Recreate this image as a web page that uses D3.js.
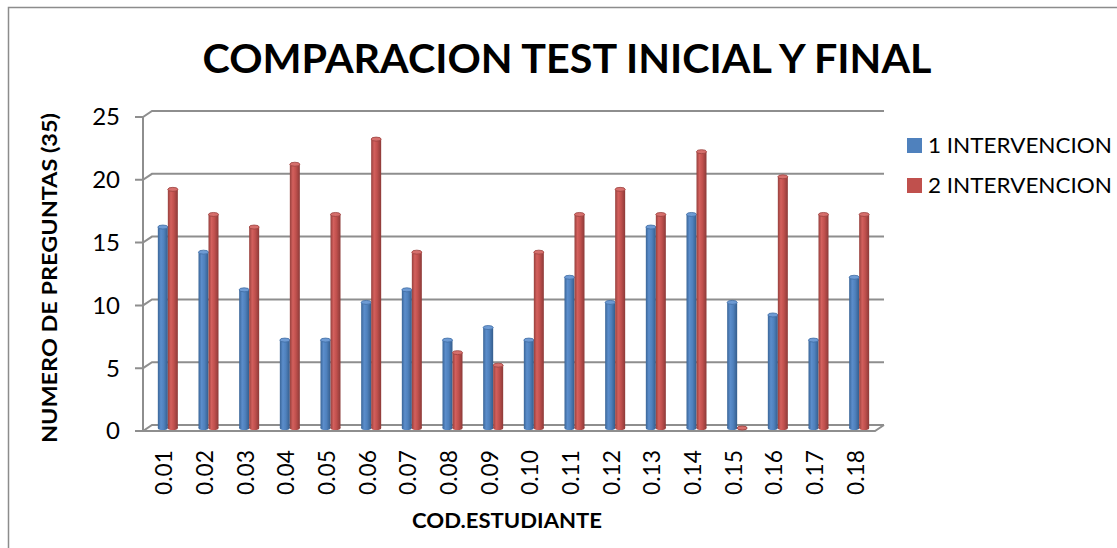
<!DOCTYPE html>
<html>
<head>
<meta charset="utf-8">
<script src="https://cdn.jsdelivr.net/npm/d3@7"></script>
<style>
  body { margin: 0; background: #fff; }
  text { font-family: Lato, "Open Sans", sans-serif; fill: #000; }
</style>
</head>
<body>
<svg id="chart" width="1117" height="548"></svg>
<script>
// data
var categories = ["0.01","0.02","0.03","0.04","0.05","0.06","0.07","0.08","0.09",
                  "0.10","0.11","0.12","0.13","0.14","0.15","0.16","0.17","0.18"];
var serie1 = [16,14,11,7,7,10,11,7,8,7,12,10,16,17,10,9,7,12];
var serie2 = [19,17,16,21,17,23,14,6,5,14,17,19,17,22,0,20,17,17];
var seriesNames = ["1 INTERVENCION", "2 INTERVENCION"];
var yTicks = [0,5,10,15,20,25];

var svg = d3.select("#chart");

// pseudo 3d depth offset (back wall vs front plane)
var dx = 9, dy = -6;

// front plane scales
var x = d3.scaleBand().domain(categories).range([143, 875]);
var yFront = d3.scaleLinear().domain([0, 25]).range([431, 117]);
var yBack = function(v){ return yFront(v) + dy; };
var yMid = function(v){ return yFront(v) + dy/2; };

// outer chart border
svg.append("rect")
    .attr("x", 8.5).attr("y", 7.5)
    .attr("width", 1300).attr("height", 800)
    .style("fill", "none").style("stroke", "#8c8c8c").style("stroke-width", 1.5);

// gradients for cylinders
var defs = svg.append("defs");
function makeGrad(id, c0, c1, c2, c3){
    var g = defs.append("linearGradient").attr("id", id)
        .attr("x1", "0%").attr("x2", "100%").attr("y1", "0%").attr("y2", "0%");
    g.append("stop").attr("offset", "0%").attr("stop-color", c0);
    g.append("stop").attr("offset", "30%").attr("stop-color", c1);
    g.append("stop").attr("offset", "60%").attr("stop-color", c2);
    g.append("stop").attr("offset", "100%").attr("stop-color", c3);
}
makeGrad("gBlue", "#3a6597", "#5b8dcb", "#4f81bd", "#355d8c");
makeGrad("gRed", "#96403d", "#d3605d", "#c0504d", "#8c3a38");

// gridlines on back wall + tick connectors
var grid = svg.append("g");
yTicks.forEach(function(t){
    grid.append("path")
        .attr("d", "M135," + yFront(t) + "H143L" + (143+dx) + "," + yBack(t) + "H" + (875+dx))
        .style("fill", "none").style("stroke", "#8e8e8e").style("stroke-width", 2);
});

// front axis and floor
grid.append("path")
    .attr("d", "M143," + yFront(25) + "V" + yFront(0) + "H875L" + (875+dx) + "," + yBack(0))
    .style("fill", "none").style("stroke", "#8e8e8e").style("stroke-width", 2);

// y tick labels
svg.append("g").selectAll("text")
    .data(yTicks)
    .enter().append("text")
    .attr("x", 120)
    .attr("y", function(d){ return yFront(d); })
    .attr("dy", "0.35em")
    .attr("text-anchor", "end")
    .style("font-size", "24px")
    .text(function(d){ return d; });

// cylinders
var bw = 10;
function drawCyl(g, cx, v, grad, topFill, edge){
    var y0 = yMid(0), y1 = yMid(v);
    var ry = 2;
    g.append("rect")
        .attr("x", cx).attr("y", y1)
        .attr("width", bw).attr("height", Math.max(0, y0 - y1))
        .style("fill", "url(#" + grad + ")");
    g.append("ellipse")
        .attr("cx", cx + bw/2).attr("cy", y0)
        .attr("rx", bw/2).attr("ry", ry)
        .style("fill", "url(#" + grad + ")");
    g.append("ellipse")
        .attr("cx", cx + bw/2).attr("cy", y1)
        .attr("rx", bw/2).attr("ry", ry)
        .style("fill", topFill).style("stroke", edge).style("stroke-width", 0.8);
}

var bars = svg.append("g");
categories.forEach(function(c, i){
    var cx = x(c) + x.bandwidth()/2 + dx/2;
    drawCyl(bars, cx - bw, serie1[i], "gBlue", "#6e9bd4", "#3f6ca3");
    drawCyl(bars, cx, serie2[i], "gRed", "#d66f6c", "#9b403d");
});

// category labels
svg.append("g").selectAll("text")
    .data(categories)
    .enter().append("text")
    .attr("transform", function(d){ return "translate(" + (x(d) + x.bandwidth()/2 + 9) + ",450) rotate(-90)"; })
    .attr("text-anchor", "end")
    .style("font-size", "24px")
    .attr("textLength", 45).attr("lengthAdjust", "spacingAndGlyphs")
    .text(function(d){ return d; });

// title
svg.append("text")
    .attr("x", 567).attr("y", 73)
    .attr("text-anchor", "middle")
    .style("font-size", "40px").style("font-weight", "bold")
    .attr("textLength", 729).attr("lengthAdjust", "spacingAndGlyphs")
    .text("COMPARACION TEST INICIAL Y FINAL");

// axis titles
svg.append("text")
    .attr("transform", "translate(57,278) rotate(-90)")
    .attr("text-anchor", "middle")
    .style("font-size", "21px").style("font-weight", "bold")
    .attr("textLength", 330).attr("lengthAdjust", "spacingAndGlyphs")
    .text("NUMERO DE PREGUNTAS (35)");

svg.append("text")
    .attr("x", 507).attr("y", 528)
    .attr("text-anchor", "middle")
    .style("font-size", "20px").style("font-weight", "bold")
    .attr("textLength", 190).attr("lengthAdjust", "spacingAndGlyphs")
    .text("COD.ESTUDIANTE");

// legend
var legendColors = ["#4f81bd", "#c0504d"];
var legend = svg.append("g");
seriesNames.forEach(function(n, i){
    legend.append("rect")
        .attr("x", 907).attr("y", 138 + i*40)
        .attr("width", 15).attr("height", 15)
        .style("fill", legendColors[i]);
    legend.append("text")
        .attr("x", 928).attr("y", 153 + i*40)
        .style("font-size", "22px")
        .attr("textLength", 184).attr("lengthAdjust", "spacingAndGlyphs")
        .text(n);
});
</script>
</body>
</html>
